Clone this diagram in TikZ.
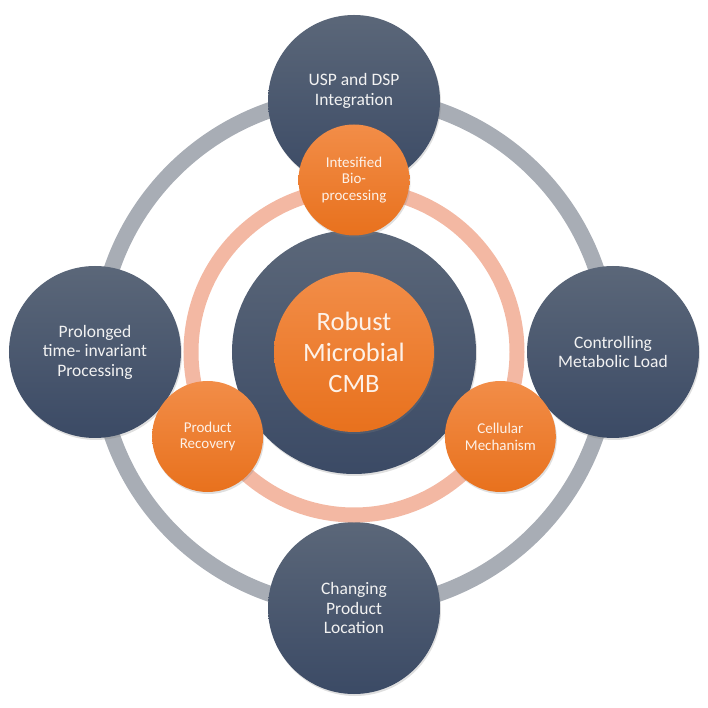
\documentclass[tikz,border=0pt]{standalone}
\usepackage{fontspec}
\setmainfont{Carlito}
\usetikzlibrary{positioning,shadows}

\definecolor{slatetop}{HTML}{5B6779}
\definecolor{slatebot}{HTML}{3B4A65}
\definecolor{ambertop}{HTML}{F28D48}
\definecolor{amberbot}{HTML}{E8711D}
\definecolor{salmonring}{HTML}{F3B8A3}
\definecolor{greyring}{HTML}{A8ADB5}
\definecolor{peachtext}{HTML}{FDF1E8}

\begin{document}
\begin{tikzpicture}[
            x=1pt, y=1pt,
            disc/.style={circle, inner sep=0pt, draw=none, align=center,
                drop shadow={opacity=0.25, shadow xshift=1pt, shadow yshift=-2pt}},
            hub/.style={disc, minimum size=172pt, top color=slatetop, bottom color=slatebot,
                text=white!95!black, font=\fontsize{17.5}{19.5}\selectfont},
            hubtext/.style={align=center, text=white!95!black, font=\fontsize{17.5}{19.5}\selectfont},
            core/.style={disc, minimum size=244pt, top color=slatetop, bottom color=slatebot},
            seed/.style={disc, minimum size=160pt, top color=ambertop, bottom color=amberbot,
                text=peachtext, font=\fontsize{26.5}{31}\selectfont},
            petal/.style={disc, minimum size=111pt, top color=ambertop, bottom color=amberbot,
                text=peachtext, font=\fontsize{15}{16.8}\selectfont}
        ]
        \useasboundingbox (-354,-356) rectangle (354,352);

        % outer ring and its four topics
        \coordinate (mid) at (0,0);
        \draw[greyring, line width=16pt] (mid) circle[radius=256pt];

        \node[hub] (usp) at (90:251) {};
        \node[hubtext] (usptext) at ([yshift=10pt]usp.center) {USP and DSP\\Integration};
        \node[hub] (prolonged) at (180:259) {Prolonged\\time- invariant\\Processing};
        \node[hub] (metabolic) at (0:259) {Controlling\\Metabolic Load};
        \node[hub] (location) at (270:256) {Changing\\Product\\Location};

        % inner ring
        \draw[salmonring, line width=15pt] (mid) circle[radius=163pt];

        \node[core] (coredisc) at (mid) {};
        \node[seed] (cmb) at (mid) {Robust\\Microbial\\CMB};

        \node[petal] (intensified) at (90:172) {Intesified\\Bio-\\processing};
        \node[petal] (recovery) at (210:169) {Product\\Recovery};
        \node[petal] (cellular) at (330:169) {Cellular\\Mechanism};
    \end{tikzpicture}
\end{document}
